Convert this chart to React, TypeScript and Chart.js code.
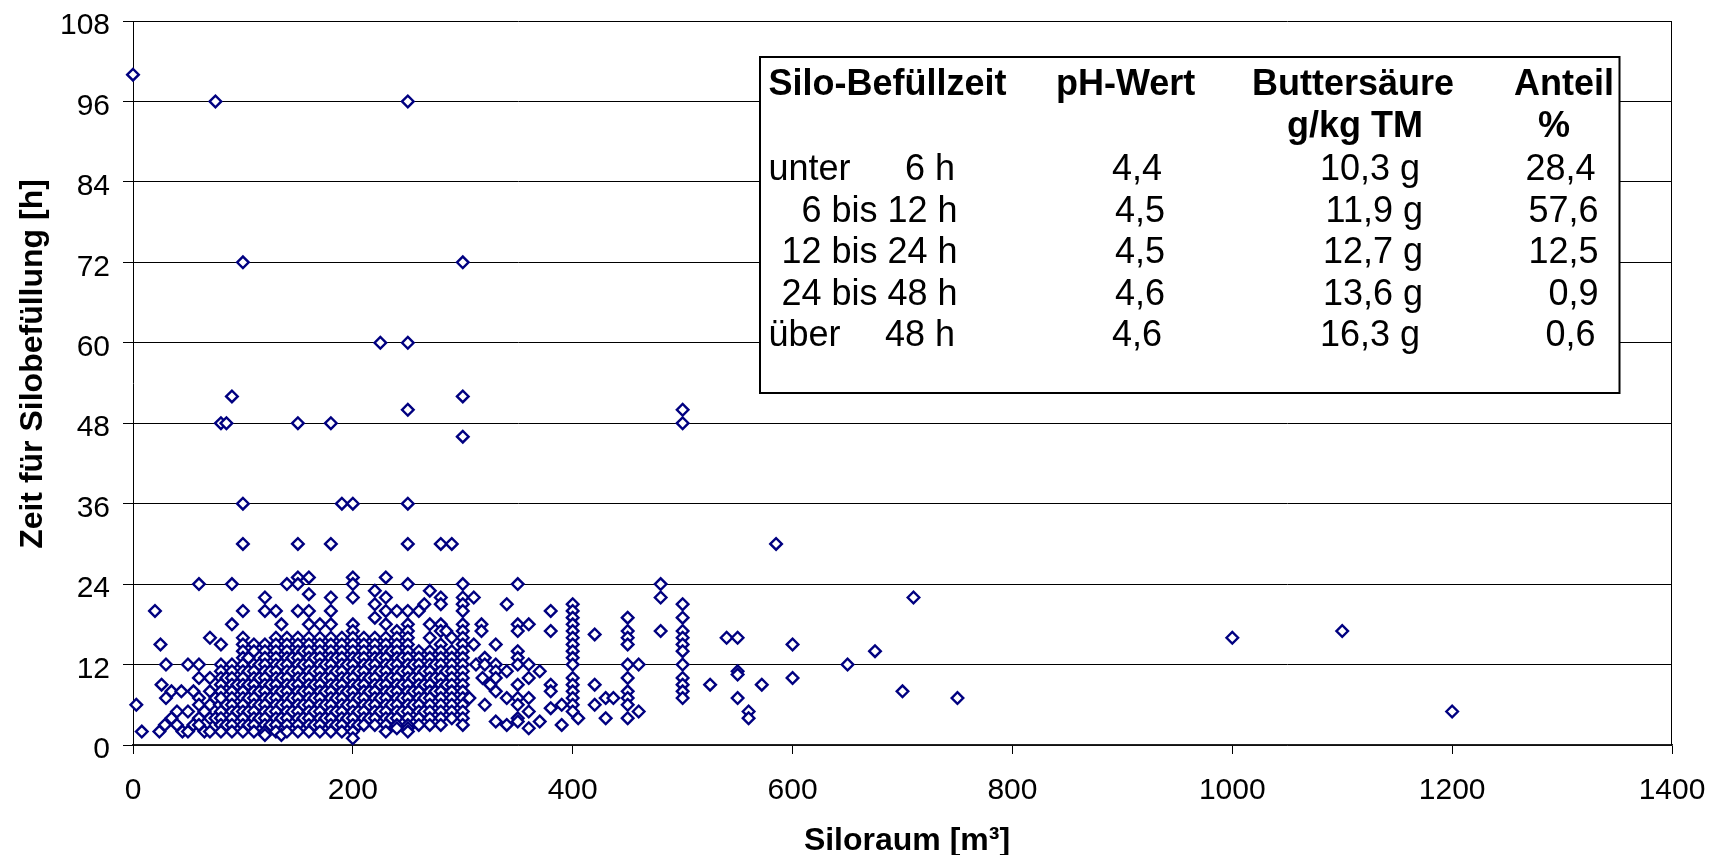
import { useEffect, useRef } from 'react';
import { Chart, registerables } from 'chart.js';

Chart.register(...registerables);

// ---------- data ----------
const xTicks = [0, 200, 400, 600, 800, 1000, 1200, 1400];
const yTicks = [0, 12, 24, 36, 48, 60, 72, 84, 96, 108];

const xTitle = 'Siloraum [m³]';
const yTitle = 'Zeit für Silobefüllung [h]';

// isolated long filling times
const outlierPoints: [number, number][] = [
  [0, 100], [75, 96], [250, 96], [100, 72], [300, 72], [225, 60], [250, 60],
  [90, 52], [300, 52], [250, 50], [500, 50], [80, 48], [85, 48], [150, 48],
  [180, 48], [500, 48], [300, 46], [100, 36], [190, 36], [200, 36], [250, 36],
  [100, 30], [150, 30], [180, 30], [250, 30], [280, 30], [290, 30], [585, 30],
];

// small silos (< 100 m³)
const smallSiloPoints: [number, number][] = [
  [3, 6], [8, 2], [20, 20], [25, 15], [30, 12], [26, 9], [30, 7], [24, 2], [29, 3],
  [35, 4], [35, 8], [40, 5], [40, 3], [44, 8], [45, 2], [50, 12], [50, 5], [50, 2],
  [55, 8], [55, 3], [60, 24], [60, 12], [60, 10], [60, 7], [60, 6], [60, 4], [60, 3],
  [65, 2], [65, 5], [70, 16], [70, 10], [70, 8], [70, 6], [70, 4], [70, 2], [75, 4],
  [75, 7], [79, 6], [80, 15], [80, 12], [80, 11], [80, 10], [80, 9], [80, 8], [80, 7],
  [80, 5], [80, 4], [80, 3], [80, 2], [85, 10], [85, 6], [85, 3], [90, 24], [90, 18],
  [90, 12], [90, 11], [90, 10], [90, 9], [90, 8], [90, 7], [90, 6], [90, 5], [90, 4],
  [90, 3], [90, 2], [95, 9], [95, 5],
];

// dense core 100–300 m³: silo size -> filling times
const coreColumns: [number, number[]][] = [
  [100, [20, 16, 15, 14, 13, 12, 11, 10, 9, 8, 7, 6, 5, 4, 3, 2]],
  [105, [13, 11, 9, 7, 5, 3]],
  [110, [15, 14, 12, 11, 10, 9, 8, 7, 6, 5, 4, 3, 2]],
  [115, [12, 10, 8, 6, 4]],
  [120, [22, 20, 15, 14, 13, 12, 11, 10, 9, 8, 7, 6, 5, 4, 3, 2, 1.5]],
  [125, [11, 9, 7, 5, 3]],
  [130, [20, 16, 15, 14, 13, 12, 11, 10, 9, 8, 7, 6, 5, 4, 3, 2]],
  [135, [18, 12, 10, 8, 6, 4, 1.5]],
  [140, [24, 16, 15, 14, 13, 12, 11, 10, 9, 8, 7, 6, 5, 4, 3, 2]],
  [145, [13, 11, 9, 7, 5]],
  [150, [25, 24, 20, 16, 15, 14, 13, 12, 11, 10, 9, 8, 7, 6, 5, 4, 3, 2]],
  [155, [14, 12, 10, 8, 6, 4]],
  [160, [25, 22.5, 20, 18, 16, 15, 14, 13, 12, 11, 10, 9, 8, 7, 6, 5, 4, 3, 2]],
  [165, [13, 11, 9, 7, 5, 3]],
  [170, [18, 16, 15, 14, 13, 12, 11, 10, 9, 8, 7, 6, 5, 4, 3, 2]],
  [175, [12, 10, 8, 6, 4]],
  [180, [22, 20, 18, 16, 15, 14, 13, 12, 11, 10, 9, 8, 7, 6, 5, 4, 3, 2]],
  [185, [13, 11, 9, 7, 5, 3]],
  [190, [16, 15, 14, 13, 12, 11, 10, 9, 8, 7, 6, 5, 4, 3, 2]],
  [195, [12, 10, 8, 6, 4]],
  [200, [25, 24, 22, 18, 17, 16, 15, 14, 13, 12, 11, 10, 9, 8, 7, 6, 5, 4, 3, 2, 1]],
  [205, [13, 11, 9, 7, 5, 3]],
  [210, [16, 15, 14, 13, 12, 11, 10, 9, 8, 7, 6, 5, 4, 3]],
  [215, [12, 10, 8, 6, 4]],
  [220, [23, 21, 19, 16, 15, 14, 13, 12, 11, 10, 9, 8, 7, 6, 5, 4, 3]],
  [225, [13, 11, 9, 7, 5]],
  [230, [25, 22, 20, 18, 16, 15, 14, 13, 12, 11, 10, 9, 8, 7, 6, 5, 4, 3, 2]],
  [235, [14, 12, 10, 8, 6, 4]],
  [240, [20, 17, 16, 15, 14, 13, 12, 11, 10, 9, 8, 7, 6, 5, 4, 3, 2.5]],
  [245, [13, 11, 9, 7, 5]],
  [250, [24, 20, 18, 17, 16, 15, 14, 13, 12, 11, 10, 9, 8, 7, 6, 5, 4, 3, 2.5, 2]],
  [255, [12, 10, 8, 6]],
  [260, [20, 14, 13, 12, 11, 10, 9, 8, 7, 6, 5, 4, 3]],
  [265, [21, 11, 9, 7, 5]],
  [270, [23, 18, 16, 14, 13, 12, 11, 10, 9, 8, 7, 6, 5, 4, 3]],
  [275, [12, 10, 8]],
  [280, [22, 21, 18, 17, 15, 14, 13, 12, 11, 10, 9, 8, 7, 6, 5, 4, 3]],
  [285, [17, 11, 9]],
  [290, [16, 14, 13, 12, 11, 10, 9, 8, 7, 6, 5, 4]],
  [300, [24, 22, 21, 20, 18, 17, 16, 15, 14, 13, 12, 11, 10, 9, 8, 7, 6, 5, 4, 3]],
];

// 300–400 m³
const midSiloPoints: [number, number][] = [
  [306, 7], [310, 22], [310, 15], [312, 12], [317, 18], [317, 17], [318, 10],
  [320, 13], [320, 12], [320, 6], [325, 9], [330, 15], [330, 12], [330, 11],
  [330, 10], [330, 8], [330, 3.5], [340, 21], [340, 11], [340, 7], [340, 3],
  [350, 24], [350, 18], [350, 17], [350, 14], [350, 13], [350, 12], [350, 9],
  [350, 7], [350, 6], [350, 4], [350, 3.5], [360, 18], [360, 12], [360, 10],
  [360, 7], [360, 5], [360, 2.5], [370, 11], [370, 3.5], [380, 20], [380, 17],
  [380, 9], [380, 8], [380, 5.5], [390, 6], [390, 3],
];

// large silos (>= 400 m³)
const largeSiloPoints: [number, number][] = [
  [400, 21], [400, 20], [400, 19], [400, 18], [400, 17], [400, 16], [400, 15],
  [400, 14], [400, 13], [400, 12], [400, 10], [400, 9], [400, 8], [400, 7],
  [400, 6], [400, 5], [405, 4], [420, 16.5], [420, 9], [420, 6], [430, 7],
  [430, 4], [437, 7], [450, 19], [450, 17], [450, 16], [450, 15], [450, 12],
  [450, 10], [450, 8], [450, 7], [450, 6], [450, 4], [460, 12], [460, 5],
  [480, 24], [480, 22], [480, 17], [500, 21], [500, 19], [500, 17], [500, 16],
  [500, 15], [500, 14], [500, 12], [500, 10], [500, 9], [500, 8], [500, 7],
  [525, 9], [540, 16], [550, 16], [550, 11], [550, 10.5], [550, 7], [560, 5],
  [560, 4], [572, 9], [600, 15], [600, 10], [650, 12], [675, 14], [700, 8],
  [710, 22], [750, 7], [1000, 16], [1100, 17], [1200, 5],
];

// inset table
const tableHeaders = ['Silo-Befüllzeit', 'pH-Wert', 'Buttersäure', 'Anteil'];
const tableSubHeaders = ['g/kg TM', '%'];
const rowPrefixes = ['unter', '', '', '', 'über'];
const rowRanges = ['6 h', '6 bis 12 h', '12 bis 24 h', '24 bis 48 h', '48 h'];
const phValues = ['4,4', '4,5', '4,5', '4,6', '4,6'];
const butyricAcid = ['10,3 g', '11,9 g', '12,7 g', '13,6 g', '16,3 g'];
const sharePercent = ['28,4', '57,6', '12,5', '0,9', '0,6'];

// ---------- layout / style ----------
const W = 1713;
const H = 855;
const FONT = "'Liberation Sans', Arial, sans-serif";
const NAVY = '#000080';
const MARKER_RADIUS = 5.8;
const MARKER_STROKE = 2.4;

const allPoints = [
  ...outlierPoints,
  ...smallSiloPoints,
  ...coreColumns.flatMap(([x, ys]) => ys.map((y) => [x, y] as [number, number])),
  ...midSiloPoints,
  ...largeSiloPoints,
].map(([x, y]) => ({ x, y }));

const decorPlugin = {
  id: 'decor',
  afterDraw(chart: any) {
    const { ctx, chartArea } = chart;
    ctx.save();
    // right frame line
    ctx.strokeStyle = '#000';
    ctx.lineWidth = 1;
    ctx.beginPath();
    const rx = Math.round(chartArea.right) - 0.5;
    ctx.moveTo(rx, chartArea.top);
    ctx.lineTo(rx, chartArea.bottom);
    ctx.stroke();

    // inset table box
    const bx = 760, by = 57, bw = 1619.5 - 760, bh = 393 - 57;
    ctx.fillStyle = '#fff';
    ctx.fillRect(bx, by, bw, bh);
    ctx.lineWidth = 2;
    ctx.strokeRect(bx, by, bw, bh);

    ctx.fillStyle = '#000';
    ctx.textBaseline = 'alphabetic';
    // headers
    ctx.font = `bold 36px ${FONT}`;
    ctx.textAlign = 'left';
    ctx.fillText(tableHeaders[0], 768.5, 95);
    ctx.fillText(tableHeaders[1], 1056, 95);
    ctx.fillText(tableHeaders[2], 1252, 95);
    ctx.textAlign = 'right';
    ctx.fillText(tableHeaders[3], 1614, 95);
    ctx.fillText(tableSubHeaders[0], 1423, 136.7);
    ctx.fillText(tableSubHeaders[1], 1570, 136.7);

    // rows
    ctx.font = `36px ${FONT}`;
    const baselines = [180, 221.5, 263, 304.5, 346];
    baselines.forEach((yb, i) => {
      const shift = rowPrefixes[i] ? -3 : 0;
      if (rowPrefixes[i]) {
        ctx.textAlign = 'left';
        ctx.fillText(rowPrefixes[i], 768.5, yb);
      }
      ctx.textAlign = 'right';
      ctx.fillText(rowRanges[i], 957.6 + (rowPrefixes[i] ? -2.6 : 0), yb);
      ctx.fillText(phValues[i], 1165 + shift, yb);
      ctx.fillText(butyricAcid[i], 1423 + shift, yb);
      ctx.fillText(sharePercent[i], 1598.5 + shift, yb);
    });

    // axis titles
    ctx.font = `bold 32px ${FONT}`;
    ctx.textAlign = 'center';
    ctx.fillText(xTitle, 907, 850);
    ctx.translate(42, 364);
    ctx.rotate(-Math.PI / 2);
    ctx.fillText(yTitle, 0, 0);
    ctx.restore();
  },
};

export default function App() {
  const ref = useRef<HTMLCanvasElement>(null);
  useEffect(() => {
    if (!ref.current) return;
    const tickFont = { family: FONT, size: 30 };
    const chart = new Chart(ref.current, {
      type: 'scatter',
      data: {
        datasets: [
          {
            data: allPoints,
            pointStyle: 'rectRot',
            pointRadius: MARKER_RADIUS,
            pointHoverRadius: MARKER_RADIUS,
            pointBorderWidth: MARKER_STROKE,
            pointBorderColor: NAVY,
            pointBackgroundColor: '#fff',
            borderColor: NAVY,
            backgroundColor: '#fff',
            showLine: false,
            clip: false,
          } as any,
        ],
      },
      options: {
        responsive: false,
        maintainAspectRatio: false,
        animation: false,
        events: [],
        layout: { padding: { left: 0, right: 41, top: 21, bottom: 0 } },
        elements: {
          point: {
            pointStyle: 'rectRot',
            radius: MARKER_RADIUS,
            borderWidth: MARKER_STROKE,
            borderColor: NAVY,
            backgroundColor: '#fff',
          },
        },
        plugins: {
          legend: { display: false },
          tooltip: { enabled: false },
        },
        scales: {
          x: {
            type: 'linear',
            min: 0,
            max: 1400,
            afterBuildTicks: (s: any) => {
              s.ticks = xTicks.map((v) => ({ value: v }));
            },
            ticks: {
              font: tickFont,
              color: '#000',
              padding: 19,
              maxRotation: 0,
              autoSkip: false,
              callback: (v: any) => String(v),
            },
            grid: {
              drawOnChartArea: false,
              drawTicks: true,
              tickLength: 9,
              color: '#000',
              lineWidth: 1,
            },
            border: { display: true, color: '#222', width: 1.5 },
            afterFit: (s: any) => {
              s.height = 110;
              s.paddingLeft = 0;
              s.paddingRight = 0;
              s.paddingTop = 0;
              s.paddingBottom = 0;
            },
          },
          y: {
            type: 'linear',
            min: 0,
            max: 108,
            afterBuildTicks: (s: any) => {
              s.ticks = yTicks.map((v) => ({ value: v }));
            },
            ticks: {
              font: tickFont,
              color: '#000',
              padding: 13,
              labelOffset: 5,
              autoSkip: false,
              callback: (v: any) => String(v),
            },
            grid: {
              color: '#000',
              lineWidth: 1,
              drawTicks: true,
              tickLength: 10,
            },
            border: { display: true, color: '#000', width: 1 },
            afterFit: (s: any) => {
              s.width = 133;
              s.paddingLeft = 0;
              s.paddingRight = 0;
              s.paddingTop = 0;
              s.paddingBottom = 0;
            },
          },
        },
      } as any,
      plugins: [decorPlugin],
    });
    return () => chart.destroy();
  }, []);

  return (
    <div style={{ position: 'fixed', left: 0, top: 0, width: W, height: H, background: '#fff' }}>
      <canvas ref={ref} width={W} height={H} style={{ display: 'block', width: W, height: H }} />
    </div>
  );
}
